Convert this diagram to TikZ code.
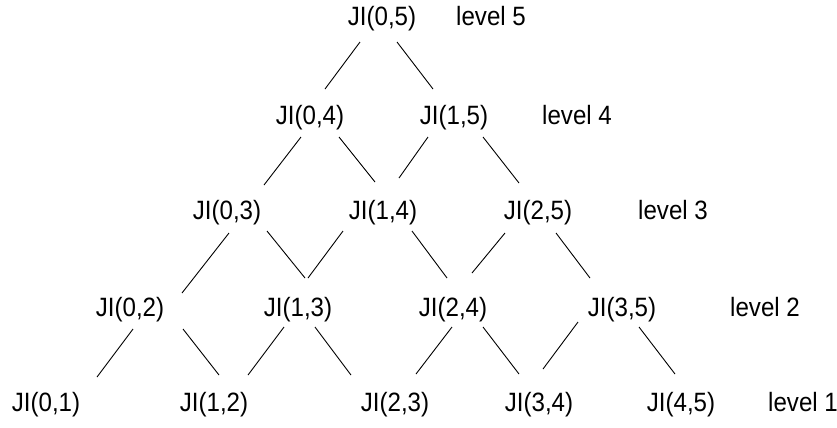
\documentclass[tikz,border=0pt]{standalone}
\usepackage{fontspec}
\setmainfont{Liberation Sans}[FakeStretch=0.91]
\usetikzlibrary{calc}
\begin{document}
\begin{tikzpicture}[x=1bp,y=-1bp,
  ji/.style={anchor=base,inner sep=0pt,font=\fontsize{26.5bp}{30bp}\selectfont},
  lvl/.style={anchor=base west,inner sep=0pt,font=\fontsize{26.5bp}{30bp}\selectfont},
  edge/.style={line width=0.9bp,black}]
\useasboundingbox (0,0) rectangle (837,427);
% positions (center x, baseline y)
\coordinate (n05) at (382,25);
\coordinate (n04) at (310,124);
\coordinate (n15) at (454,124);
\coordinate (n03) at (227,219);
\coordinate (n14) at (383,219);
\coordinate (n25) at (538,219);
\coordinate (n02) at (130,316);
\coordinate (n13) at (298,316);
\coordinate (n24) at (453,316);
\coordinate (n35) at (622,316);
\coordinate (n01) at (46,411);
\coordinate (n12) at (214,411);
\coordinate (n23) at (395,411);
\coordinate (n34) at (539,411);
\coordinate (n45) at (681,411);
% nodes
\node[ji] (t05) at (n05) {JI(0,5)};
\node[ji] (t04) at (n04) {JI(0,4)};
\node[ji] (t15) at (n15) {JI(1,5)};
\node[ji] (t03) at (n03) {JI(0,3)};
\node[ji] (t14) at (n14) {JI(1,4)};
\node[ji] (t25) at (n25) {JI(2,5)};
\node[ji] (t02) at (n02) {JI(0,2)};
\node[ji] (t13) at (n13) {JI(1,3)};
\node[ji] (t24) at (n24) {JI(2,4)};
\node[ji] (t35) at (n35) {JI(3,5)};
\node[ji] (t01) at (n01) {JI(0,1)};
\node[ji] (t12) at (n12) {JI(1,2)};
\node[ji] (t23) at (n23) {JI(2,3)};
\node[ji] (t34) at (n34) {JI(3,4)};
\node[ji] (t45) at (n45) {JI(4,5)};
% level labels
\node[lvl] (l5) at (456,25) {level 5};
\node[lvl] (l4) at (542,124) {level 4};
\node[lvl] (l3) at (638,219) {level 3};
\node[lvl] (l2) at (730,316) {level 2};
\node[lvl] (l1) at (768,411) {level 1};
% connectors
\draw[edge] ($(n05)+(-22,17)$) -- ($(n04)+(15,-35)$);
\draw[edge] ($(n05)+(15,17)$) -- ($(n15)+(-21,-35)$);
\draw[edge] ($(n04)+(-9,13)$) -- ($(n03)+(37,-34)$);
\draw[edge] ($(n04)+(29,13)$) -- ($(n14)+(-8,-37)$);
\draw[edge] ($(n15)+(-26,13)$) -- ($(n14)+(16,-41)$);
\draw[edge] ($(n15)+(29,13)$) -- ($(n25)+(-19,-36)$);
\draw[edge] ($(n03)+(2,14)$) -- ($(n02)+(52,-23)$);
\draw[edge] ($(n03)+(40,12)$) -- ($(n13)+(7,-38)$);
\draw[edge] ($(n14)+(-40,12)$) -- ($(n13)+(10,-38)$);
\draw[edge] ($(n14)+(29,12)$) -- ($(n24)+(-6,-38)$);
\draw[edge] ($(n25)+(-33,14)$) -- ($(n24)+(19,-43)$);
\draw[edge] ($(n25)+(18,14)$) -- ($(n35)+(-32,-38)$);
\draw[edge] ($(n02)+(3,13)$) -- ($(n01)+(51,-34)$);
\draw[edge] ($(n02)+(53,13)$) -- ($(n12)+(5,-36)$);
\draw[edge] ($(n13)+(-14,11)$) -- ($(n12)+(34,-36)$);
\draw[edge] ($(n13)+(17,11)$) -- ($(n23)+(-44,-36)$);
\draw[edge] ($(n24)+(-1,11)$) -- ($(n23)+(21,-37)$);
\draw[edge] ($(n24)+(30,11)$) -- ($(n34)+(-20,-37)$);
\draw[edge] ($(n35)+(-44,6)$) -- ($(n34)+(4,-42)$);
\draw[edge] ($(n35)+(17,11)$) -- ($(n45)+(-6,-37)$);
\end{tikzpicture}
\end{document}
